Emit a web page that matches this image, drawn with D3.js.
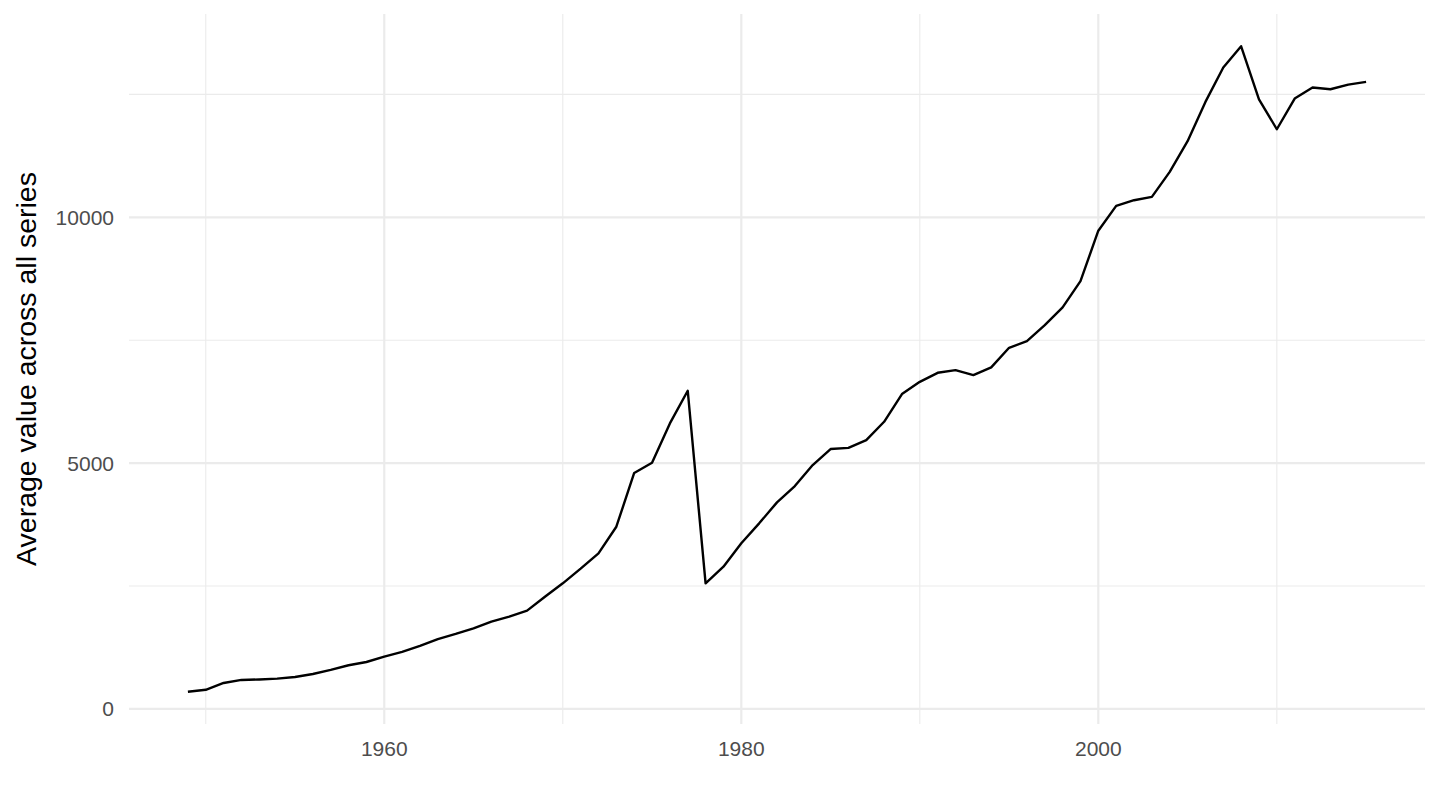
<!DOCTYPE html>
<html>
<head>
    <meta charset="utf-8">
    <title>Average value across all series</title>
    <script src="https://d3js.org/d3.v7.min.js"></script>
    <style>
        body { margin: 0; background: #fff; }
        svg { display: block; font-family: "Liberation Sans", Arial, sans-serif; }
        .grid-major line { stroke: #ebebeb; stroke-width: 2.2; }
        .grid-minor line { stroke: #ebebeb; stroke-width: 1.1; }
        .tick-label { fill: #4d4d4d; font-size: 21px; }
        .axis-title { fill: #000; font-size: 28.5px; }
    </style>
</head>
<body>
    <svg width="1440" height="810"></svg>

    <script>
        // years 1949 - 2015
        const years = d3.range(1949, 2016);
        const values = [
            350, 390, 528, 590, 600, 616, 650, 711, 793, 888,
            955, 1064, 1159, 1281, 1420, 1525, 1640, 1776, 1877, 1999,
            2283, 2555, 2853, 3165, 3706, 4800, 5008, 5808, 6472, 2555,
            2894, 3369, 3775, 4202, 4534, 4961, 5286, 5310, 5469, 5841,
            6404, 6654, 6837, 6892, 6790, 6947, 7346, 7482, 7807, 8167,
            8701, 9728, 10233, 10348, 10415, 10924, 11548, 12347, 13046, 13479,
            12401, 11791, 12415, 12639, 12605, 12700, 12754
        ];
        const xMajor = [1960, 1980, 2000];
        const xMinor = [1950, 1970, 1990, 2010];
        const yMajor = [0, 5000, 10000];
        const yMinor = [2500, 7500, 12500];
        const yTitle = "Average value across all series";

        const data = years.map((y, i) => ({ year: y, value: values[i] }));

        const svg = d3.select("svg");
        const panel = { left: 129, right: 1425, top: 14, bottom: 724 };

        // ggplot-style 5% expansion
        const xExt = d3.extent(years);
        const xPad = (xExt[1] - xExt[0]) * 0.05;
        const yExt = d3.extent(values);
        const yPad = (yExt[1] - yExt[0]) * 0.05;

        const x = d3.scaleLinear()
            .domain([xExt[0] - xPad, xExt[1] + xPad])
            .range([panel.left, panel.right]);
        const y = d3.scaleLinear()
            .domain([yExt[0] - yPad, yExt[1] + yPad])
            .range([panel.bottom, panel.top]);

        // minor grid
        const minor = svg.append("g").attr("class", "grid-minor");
        minor.selectAll("line.v").data(xMinor).enter().append("line")
            .attr("class", "v")
            .attr("x1", d => x(d)).attr("x2", d => x(d))
            .attr("y1", panel.top).attr("y2", panel.bottom);
        minor.selectAll("line.h").data(yMinor).enter().append("line")
            .attr("class", "h")
            .attr("x1", panel.left).attr("x2", panel.right)
            .attr("y1", d => y(d)).attr("y2", d => y(d));

        // major grid
        const major = svg.append("g").attr("class", "grid-major");
        major.selectAll("line.v").data(xMajor).enter().append("line")
            .attr("class", "v")
            .attr("x1", d => x(d)).attr("x2", d => x(d))
            .attr("y1", panel.top).attr("y2", panel.bottom);
        major.selectAll("line.h").data(yMajor).enter().append("line")
            .attr("class", "h")
            .attr("x1", panel.left).attr("x2", panel.right)
            .attr("y1", d => y(d)).attr("y2", d => y(d));

        // the series
        const line = d3.line()
            .x(d => x(d.year))
            .y(d => y(d.value));

        svg.append("path")
            .datum(data)
            .attr("fill", "none")
            .attr("stroke", "#000")
            .attr("stroke-width", 2.4)
            .attr("stroke-linejoin", "round")
            .attr("d", line);

        // tick labels
        svg.append("g").selectAll("text").data(xMajor).enter().append("text")
            .attr("class", "tick-label")
            .attr("x", d => x(d))
            .attr("y", panel.bottom + 24)
            .attr("text-anchor", "middle")
            .attr("dominant-baseline", "central")
            .text(d => d);

        svg.append("g").selectAll("text").data(yMajor).enter().append("text")
            .attr("class", "tick-label")
            .attr("x", panel.left - 15)
            .attr("y", d => y(d))
            .attr("text-anchor", "end")
            .attr("dominant-baseline", "central")
            .text(d => d);

        // axis title
        svg.append("text")
            .attr("class", "axis-title")
            .attr("transform", `translate(${26}, ${(panel.top + panel.bottom) / 2}) rotate(-90)`)
            .attr("text-anchor", "middle")
            .attr("dominant-baseline", "central")
            .text(yTitle);
    </script>
</body>
</html>
